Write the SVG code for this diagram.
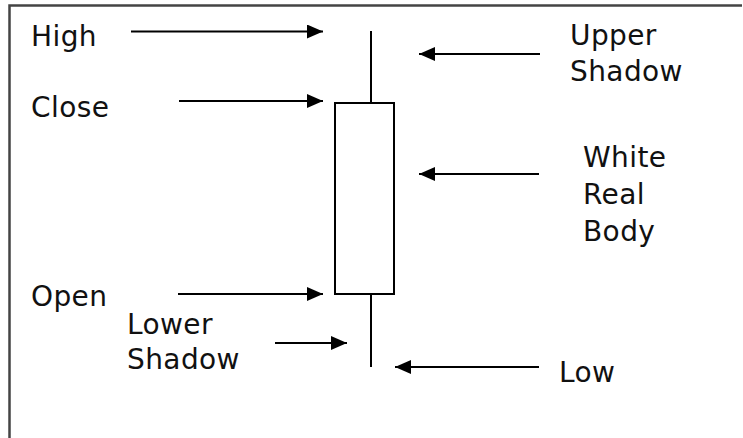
<svg xmlns="http://www.w3.org/2000/svg" width="743" height="438" viewBox="0 0 743 438">
<defs>
<style>
text{font-family:"DejaVu Sans",Verdana,sans-serif;font-size:28px;letter-spacing:0.4px;fill:#111}
</style>
<marker id="ah2" viewBox="0 0 16 14" refX="16" refY="7" markerWidth="16" markerHeight="14" orient="auto" markerUnits="userSpaceOnUse">
<path d="M0,0 L16,7 L0,14 Z" fill="#000"/>
</marker>
</defs>
<rect width="743" height="438" fill="#fff"/>
<path d="M9.5,438 V5.5 H742" fill="none" stroke="#444" stroke-width="2.5"/>
<g id="candle">
<line x1="371" y1="31" x2="371" y2="103" stroke="#000" stroke-width="2"/>
<rect x="335" y="103" width="59" height="191" fill="#fff" stroke="#000" stroke-width="2"/>
<line x1="371" y1="294" x2="371" y2="367" stroke="#000" stroke-width="2"/>
</g>
<g id="connectors" stroke="#000" stroke-width="2" fill="none">
<line x1="131" y1="31.5" x2="323" y2="31.5" marker-end="url(#ah2)"/>
<line x1="179" y1="101" x2="323" y2="101" marker-end="url(#ah2)"/>
<line x1="178" y1="294" x2="323" y2="294" marker-end="url(#ah2)"/>
<line x1="275" y1="343" x2="347" y2="343" marker-end="url(#ah2)"/>
<line x1="540" y1="54" x2="419" y2="54" marker-end="url(#ah2)"/>
<line x1="539" y1="174" x2="419" y2="174" marker-end="url(#ah2)"/>
<line x1="539" y1="367" x2="395" y2="367" marker-end="url(#ah2)"/>
</g>
<g id="high"><text x="31" y="46">High</text></g>
<g id="close"><text x="31" y="117">Close</text></g>
<g id="open"><text x="31" y="306">Open</text></g>
<g id="lower-shadow"><text x="127" y="334">Lower</text><text x="127" y="369">Shadow</text></g>
<g id="upper-shadow"><text x="570" y="45">Upper</text><text x="570" y="81">Shadow</text></g>
<g id="white-real-body"><text x="583" y="167">White</text><text x="583" y="204">Real</text><text x="583" y="241">Body</text></g>
<g id="low"><text x="559" y="382">Low</text></g>
</svg>
